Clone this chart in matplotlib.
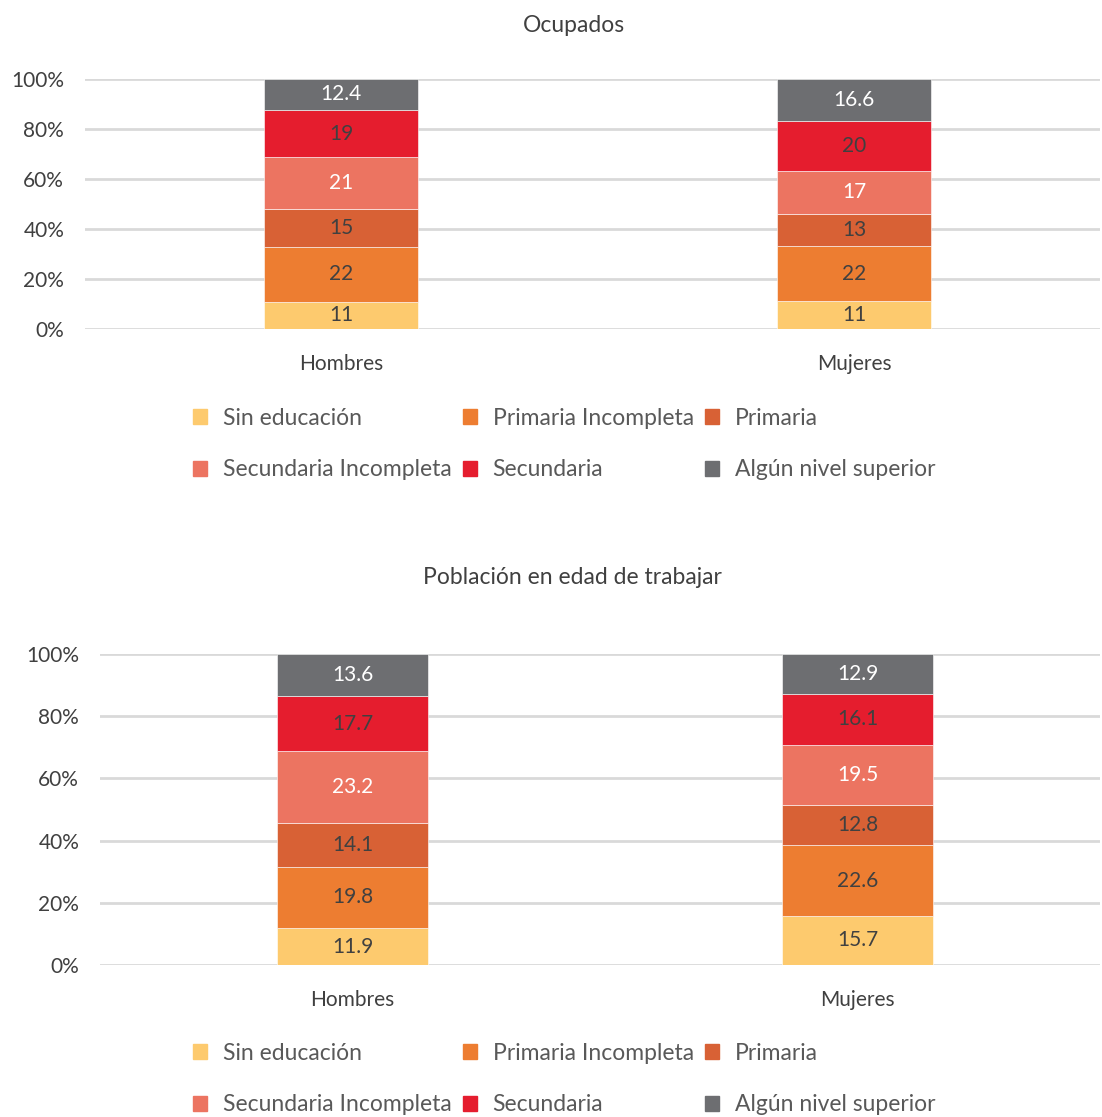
import numpy as np
import matplotlib.pyplot as plt
from matplotlib.patches import Patch

plt.rcParams['font.family'] = ['Lato', 'DejaVu Sans']

# data
categorias = ["Hombres", "Mujeres"]
niveles = ["Sin educación", "Primaria Incompleta", "Primaria",
           "Secundaria Incompleta", "Secundaria", "Algún nivel superior"]
ocupados_h = [11, 22, 15, 21, 19, 12.4]
ocupados_m = [11, 22, 13, 17, 20, 16.6]
ocupados_lab_h = ["11", "22", "15", "21", "19", "12.4"]
ocupados_lab_m = ["11", "22", "13", "17", "20", "16.6"]
pet_h = [11.9, 19.8, 14.1, 23.2, 17.7, 13.6]
pet_m = [15.7, 22.6, 12.8, 19.5, 16.1, 12.9]
pet_lab_h = ["11.9", "19.8", "14.1", "23.2", "17.7", "13.6"]
pet_lab_m = ["15.7", "22.6", "12.8", "19.5", "16.1", "12.9"]

colores = ["#FDCA6E", "#ED7D31", "#D86135", "#EC7461", "#E51D2E", "#6D6E71"]
txt_col = ["#404040", "#404040", "#404040", "white", "#404040", "white"]

W, H = 1102, 1117
fig = plt.figure(figsize=(W / 100, H / 100), dpi=100)


def panel(rect, vals, labs):
    ax = fig.add_axes(rect)
    x = np.arange(len(categorias))
    data = np.array(vals, dtype=float)
    data = data / data.sum(axis=1, keepdims=True) * 100
    bottom = np.zeros(len(categorias))
    for j in range(len(niveles)):
        ax.bar(x, data[:, j], 0.3, bottom=bottom, color=colores[j],
               edgecolor="white", linewidth=0.4, zorder=3)
        for i in range(len(categorias)):
            ax.text(x[i], bottom[i] + data[i, j] / 2, labs[i][j],
                    ha="center", va="center", fontsize=15, color=txt_col[j], zorder=4)
        bottom += data[:, j]
    ax.set_xlim(-0.5, 1.48)
    ax.set_ylim(0, 100)
    ax.set_yticks(np.arange(0, 101, 20))
    ax.set_yticklabels([f"{v}%" for v in range(0, 101, 20)])
    ax.set_xticks(x)
    ax.set_xticklabels(categorias)
    ax.grid(axis="y", color="#D9D9D9", linewidth=2, zorder=0)
    for s in ax.spines.values():
        s.set_visible(False)
    ax.tick_params(length=0, labelsize=15, labelcolor="#404040")
    ax.tick_params(axis="y", pad=15)
    ax.tick_params(axis="x", pad=18)
    return ax


ax1 = panel([85 / W, (H - 329) / H, 1015 / W, 250 / H],
            [ocupados_h, ocupados_m], [ocupados_lab_h, ocupados_lab_m])
ax2 = panel([100 / W, (H - 965) / H, 1000 / W, 311 / H],
            [pet_h, pet_m], [pet_lab_h, pet_lab_m])

fig.text(574 / W, (H - 25) / H, "Ocupados", ha="center", va="center",
         fontsize=16.5, color="#404040")
fig.text(572 / W, (H - 577) / H, "Población en edad de trabajar", ha="center", va="center",
         fontsize=16.5, color="#404040")

handles = [Patch(color=c) for c in colores]
orden = [0, 3, 1, 4, 2, 5]
for y in [(H - 444) / H, (H - 1079) / H]:
    fig.legend([handles[k] for k in orden], [niveles[k] for k in orden],
               loc="center", bbox_to_anchor=(0.512, y), ncol=3, frameon=False,
               fontsize=16.5, labelcolor="#595959", handlelength=0.6, handleheight=0.6,
               handletextpad=0.7, columnspacing=0.5, labelspacing=1.35)

fig.savefig("out.png", dpi=100, facecolor="white")
